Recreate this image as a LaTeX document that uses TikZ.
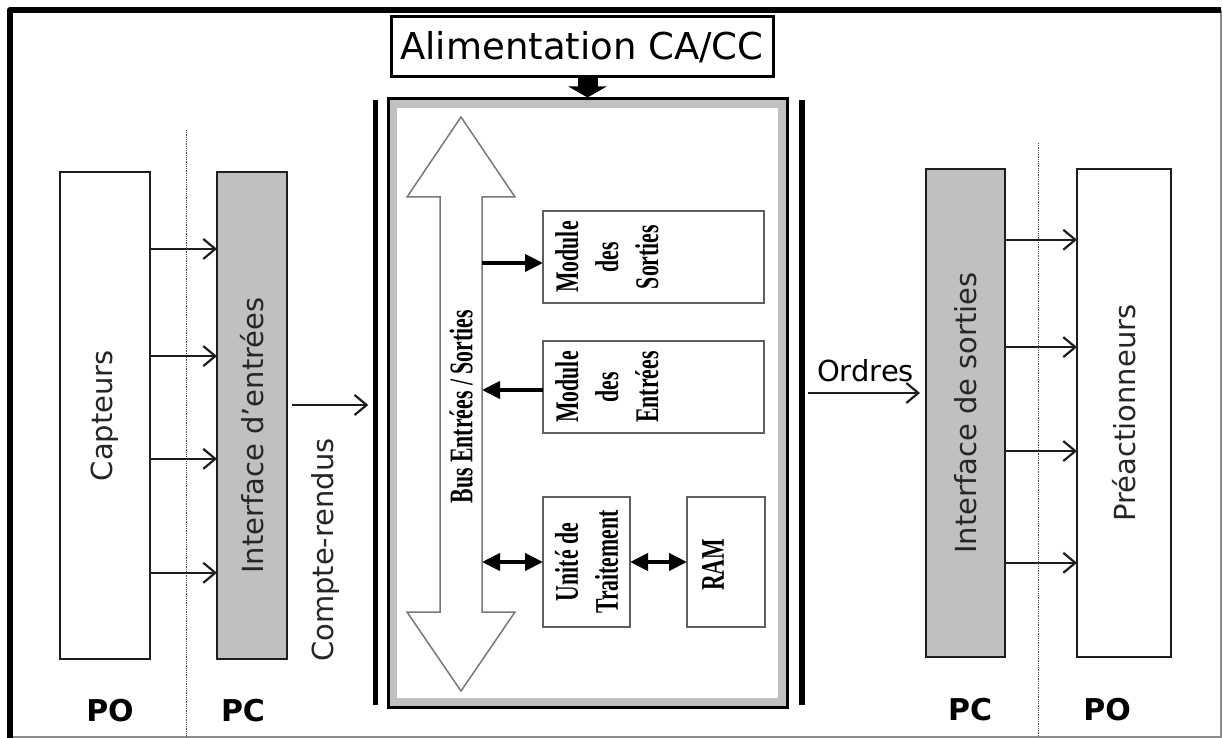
\documentclass[tikz,border=0pt]{standalone}
\usepackage{fontspec}
\setmainfont{DejaVu Sans}
\newfontfamily\modfont[FakeStretch=0.66]{Liberation Serif}
\usetikzlibrary{
  positioning,
  calc,
  arrows.meta}
\definecolor{ifacecolor}{RGB}{192,192,192}
\definecolor{bandcolor}{RGB}{192,192,192}
\definecolor{linecolor}{RGB}{30,30,30}
\definecolor{modcolor}{RGB}{95,95,95}
\definecolor{buscolor}{RGB}{120,120,120}
\tikzset{
  %% block : capteurs / preactionneurs (partie operative)
  block/.style={
    rectangle,
    draw=linecolor,
    line width=2.5pt,
    fill=white,
    inner sep=0pt,
    outer sep=0pt
  },
  %% iface : interfaces (partie commande)
  iface/.style={
    block,
    fill=ifacecolor
  },
  %% module : a box inside the automate
  module/.style={
    rectangle,
    draw=modcolor,
    line width=1.5pt,
    fill=white,
    inner sep=0pt,
    outer sep=0pt
  },
  %% vtext : vertical sans label
  vtext/.style={
    rotate=90,
    inner sep=0pt,
    text=black!85,
    font=\fontsize{29pt}{35pt}\selectfont
  },
  %% modtext : vertical narrow serif label
  modtext/.style={
    rotate=90,
    inner sep=0pt,
    align=center,
    font=\modfont\bfseries\fontsize{33pt}{40pt}\selectfont
  },
  %% tag : PO / PC
  tag/.style={
    inner sep=0pt,
    font=\bfseries\fontsize{30pt}{36pt}\selectfont
  },
  %% bar : thick bar beside the automate
  bar/.style={
    rectangle,
    fill=black,
    inner sep=0pt,
    minimum height=605pt
  },
  %% flow : thin arrow, open head
  flow/.style={
    draw=linecolor,
    line width=2.2pt,
    -{Straight Barb[length=12pt,width=20pt]}
  },
  %% busflow : thick arrow inside the automate
  busflow/.style={
    line width=4pt,
    -{Triangle[length=18pt,width=17pt]}
  },
  busboth/.style={
    line width=4pt,
    {Triangle[length=18pt,width=17pt]}-{Triangle[length=18pt,width=17pt]}
  },
  %% sep : dotted separation PO / PC
  sep/.style={black!70, line width=0.8pt, densely dotted}
}

\begin{document}
\begin{tikzpicture}
  [x=1pt,
  y=-1pt]
  \useasboundingbox (0,0) rectangle (1223,738);

  %% Frame
  \draw [black!45, line width=1.2pt] (1221,10) -- (1221,737) -- (10,737);
  \draw [line width=6pt, line join=round] (10,738) -- (10,10) -- (1221,10);

  %% Separations PO / PC
  \draw [sep] (186,130) -- (186,737);
  \draw [sep] (1038,143) -- (1038,737);

  %% Left side: capteurs and interface d'entrees
  \node (capteurs) [block, minimum width=90pt, minimum height=487pt]
  at (105,415.5) {};
  \node (intin) [iface, minimum width=70pt, minimum height=487pt,
  right=67pt of capteurs] {};

  \node (capteurstxt) [vtext] at (capteurs) {%
    Capteurs
  };
  \node (intintxt) [vtext] at ($(intin)+(0,20)$) {%
    Interface d'entrées
  };

  \foreach \f in {0.158,0.378,0.589,0.823}{
    \coordinate (capout) at ($(capteurs.north east)!\f!(capteurs.south east)$);
    \draw [flow] (capout) -- (capout -| intin.west);
  }

  \node (poleft) [tag] at (110,711) {PO};
  \node (pcleft) [tag] at (243,711) {PC};

  %% Automate
  \node (alim) [rectangle, draw=black, line width=3pt,
  minimum width=382pt, minimum height=60pt,
  font=\fontsize{37pt}{44pt}\selectfont] at (582,47) {%
    Alimentation CA/CC
  };

  \node (cpu) [rectangle, draw=black, line width=3pt, fill=bandcolor,
  minimum width=399pt, minimum height=608pt] at (587.5,403) {};
  \node (cpuin) [rectangle, fill=white,
  minimum width=381pt, minimum height=590pt] at (cpu) {};
  \draw [line width=20pt, -{Triangle[length=11pt,width=38pt]}]
  (alim.south -| cpu.north) -- (cpu.north);

  \node (lbar) [bar, minimum width=5pt] at (375,402.5) {};
  \node (rbar) [bar, minimum width=6pt] at (802,402.5) {};

  %% Bus
  \node (bus) [inner sep=0pt, outer sep=0pt,
  minimum width=42pt, minimum height=574pt] at (461,404) {};
  \draw [buscolor, line width=1.5pt, fill=white] (bus.north)
  -- ++(54,80) -- ++(-33,0) -- ++(0,415) -- ++(33,0)
  -- (bus.south)
  -- ++(-54,-79) -- ++(33,0) -- ++(0,-415) -- ++(-33,0) -- cycle;
  \node (bustxt) [modtext] at (bus) {%
    Bus Entrées / Sorties
  };

  %% Modules
  \node (sorties) [module, minimum width=221pt, minimum height=92pt]
  at (653.5,257) {};
  \node (entrees) [module, minimum width=221pt, minimum height=92pt,
  below=38pt of sorties] {};
  \node (unite) [module, minimum width=87pt, minimum height=130pt]
  at (586.5,562) {};
  \node (ram) [module, minimum width=78pt, minimum height=130pt,
  right=57pt of unite] {};

  \node (sortiestxt) [modtext, anchor=north] at ($(sorties.west)+(12,0)$) {%
    Module\\des\\Sorties
  };
  \node (entreestxt) [modtext, anchor=north] at ($(entrees.west)+(12,0)$) {%
    Module\\des\\Entrées
  };
  \node (unitetxt) [modtext] at (unite) {%
    Unité de\\Traitement
  };
  \node (ramtxt) [modtext, anchor=north] at ($(ram.west)+(15,0)$) {%
    RAM
  };

  \coordinate (sortiesin) at ([yshift=-6pt]sorties.west);
  \draw [busflow] (sortiesin -| bus.east) -- (sortiesin);
  \coordinate (entreesout) at ([yshift=-3pt]entrees.west);
  \draw [busflow] (entreesout) -- (entreesout -| bus.east);
  \draw [busboth] (unite.west -| bus.east) -- (unite.west);
  \draw [busboth] (unite) -- (ram);

  %% Compte-rendus
  \coordinate (cr) at ([yshift=10.5pt]intin.east);
  \draw [flow, shorten <=5pt, shorten >=4pt] (cr) -- (cr -| lbar.west);
  \node (crtxt) [vtext] at (325,550) {%
    Compte-rendus
  };

  %% Right side: interface de sorties and preactionneurs
  \node (outsor) [iface, minimum width=79pt, minimum height=488pt]
  at (965.5,413) {};
  \node (preact) [block, minimum width=94pt, minimum height=488pt,
  right=72pt of outsor] {};

  \node (outsortxt) [vtext] at (outsor) {%
    Interface de sorties
  };
  \node (preacttxt) [vtext] at (preact) {%
    Préactionneurs
  };

  \foreach \f in {0.145,0.365,0.578,0.807}{
    \coordinate (sorout) at ($(outsor.north east)!\f!(outsor.south east)$);
    \draw [flow] (sorout) -- (sorout -| preact.west);
  }

  %% Ordres
  \coordinate (ord) at ([yshift=20pt]outsor.west);
  \draw [flow, shorten <=3pt, shorten >=6pt] (ord -| rbar.east) -- (ord)
  node (ordrestxt) [midway, above=10pt, inner sep=0pt,
  font=\fontsize{29pt}{35pt}\selectfont] {Ordres};

  \node (pcright) [tag] at (970,710) {PC};
  \node (poright) [tag] at (1107,710) {PO};

\end{tikzpicture}
\end{document}
